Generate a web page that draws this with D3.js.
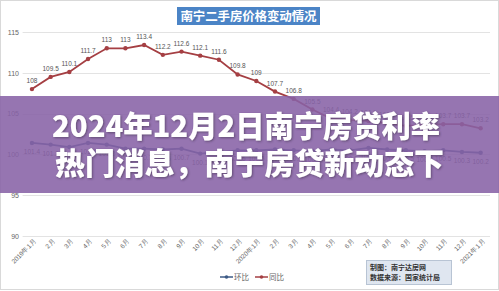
<!DOCTYPE html>
<html>
<head>
<meta charset="utf-8">
<script src="https://cdn.jsdelivr.net/npm/d3@7"></script>
<style>
  html, body { margin: 0; padding: 0; background: #fff; }
  svg { display: block; font-family: "Noto Sans CJK SC", "Noto Sans", sans-serif; }
</style>
</head>
<body>
<script>
// categories: 2019年1月 .. 2021年1月
const months = [
  "2019年1月", "2月", "3月", "4月", "5月", "6月", "7月", "8月", "9月", "10月", "11月", "12月",
  "2020年1月", "2月", "3月", "4月", "5月", "6月", "7月", "8月", "9月", "10月", "11月", "12月",
  "2021年1月"
];
const yoy = [108, 109.5, 110.1, 111.7, 113, 113, 113.4, 112.2, 112.6, 112.1, 111.6, 109.8,
  109, 107.7, 106.8, 105.5, 104.4, 104.2, 104.1, 103.8, 103.5, 103.6, 103.7, 103.7, 103.2];
const mom = [101.4, 101.2, 100.9, 101.4, 101.2, 100.7, 100.7, 100.6, 100.7, 100.1, 100.3, 100.5,
  100.5, 100.6, 100.5, 100.4, 100.6, 100.5, 100.8, 100.6, 100.5, 100.4, 100.5, 100.3, 100.2];
const yTicks = [90, 95, 100, 105, 110, 115];
const chartTitle = "南宁二手房价格变动情况";
const headline = ["2024年12月2日南宁房贷利率", "热门消息，南宁房贷新动态下"];
const legendNames = ["环比", "同比"];
const noteLines = ["制图：南宁达房网", "数据来源：国家统计局"];

const W = 499, H = 291;
const svg = d3.select("body").append("svg").attr("width", W).attr("height", H);

// frame
svg.append("rect").attr("x", 0.5).attr("y", 0.5).attr("width", W - 1).attr("height", H - 2)
  .attr("fill", "#fff").attr("stroke", "#d9d9d9");

const x = d3.scalePoint().domain(months.map((d, i) => i)).range([22.6, 490]).padding(0.5);
const y = d3.scaleLinear().domain([90, 115]).range([236, 32]);

// grid
svg.append("g").selectAll("line").data(yTicks).join("line")
  .attr("x1", 22.6).attr("x2", 490)
  .attr("y1", d => Math.round(y(d)) + 0.5).attr("y2", d => Math.round(y(d)) + 0.5)
  .attr("stroke", "#e3e3e3");

// y axis labels
const yAxis = svg.append("g").attr("transform", "translate(19,0)")
  .call(d3.axisLeft(y).tickValues(yTicks).tickSize(0).tickPadding(0));
yAxis.select(".domain").remove();
yAxis.selectAll("text").attr("fill", "#666").style("font-size", "7px")
  .style("font-family", "'Liberation Sans', sans-serif");

// x axis labels (rotated)
const xAxis = svg.append("g").attr("transform", "translate(0,240)")
  .call(d3.axisBottom(x).tickSize(0).tickPadding(0).tickFormat(i => months[i]));
xAxis.select(".domain").remove();
xAxis.selectAll("text")
  .attr("fill", "#666").style("font-size", "6.5px")
  .attr("text-anchor", "end").attr("dy", "0.3em")
  .attr("transform", "translate(3,0) rotate(-45)");

// title box
const tb = svg.append("g");
tb.append("rect").attr("x", 177).attr("y", 7).attr("width", 143).attr("height", 18).attr("fill", "#4b84c6");
tb.append("text").attr("x", 248.5).attr("y", 20.5).attr("text-anchor", "middle")
  .attr("fill", "#fff").style("font-size", "12.5px").style("font-weight", "bold")
  .attr("textLength", 136).text(chartTitle);

// series
function drawSeries(data, color, labelDy) {
  const line = d3.line().x((d, i) => x(i)).y(d => y(d));
  const g = svg.append("g");
  g.append("path").datum(data).attr("d", line).attr("fill", "none")
    .attr("stroke", color).attr("stroke-width", 1.8);
  g.selectAll("circle").data(data).join("circle")
    .attr("cx", (d, i) => x(i)).attr("cy", d => y(d)).attr("r", 2.2).attr("fill", color);
  g.selectAll("text").data(data).join("text")
    .attr("x", (d, i) => x(i)).attr("y", d => y(d) + labelDy)
    .attr("text-anchor", "middle").attr("fill", "#555")
    .style("font-size", "6.5px").style("font-family", "'Liberation Sans', sans-serif")
    .text(d => d);
}
drawSeries(yoy, "#a53f43", -6);
drawSeries(mom, "#3d5a86", 11);

// legend
const lg = svg.append("g");
[[220, "#3d5a86"], [255, "#a53f43"]].forEach((p, k) => {
  lg.append("line").attr("x1", p[0]).attr("x2", p[0] + 13).attr("y1", 277).attr("y2", 277)
    .attr("stroke", p[1]).attr("stroke-width", 1.5);
  lg.append("circle").attr("cx", p[0] + 6.5).attr("cy", 277).attr("r", 1.8).attr("fill", p[1]);
  lg.append("text").attr("x", p[0] + 14).attr("y", 280).attr("fill", "#666")
    .style("font-size", "7.5px").text(legendNames[k]);
});

// source note
const nb = svg.append("g");
nb.append("rect").attr("x", 366.5).attr("y", 260.5).attr("width", 85).attr("height", 24)
  .attr("fill", "#dfe6f0").attr("stroke", "#b8c4d4");
noteLines.forEach((t, k) => {
  nb.append("text").attr("x", 370).attr("y", 270 + k * 10).attr("fill", "#333")
    .style("font-size", "7px").style("font-weight", "bold").text(t);
});

// purple banner overlay
svg.append("rect").attr("x", 0).attr("y", 96).attr("width", W).attr("height", 97)
  .attr("fill", "#8862a6").attr("opacity", 0.88);

const defs = svg.append("defs");
defs.append("filter").attr("id", "shadow").attr("x", "-5%").attr("y", "-20%")
  .attr("width", "110%").attr("height", "140%")
  .append("feDropShadow").attr("dx", 1).attr("dy", 1).attr("stdDeviation", 0.8)
  .attr("flood-color", "#3a2a4a").attr("flood-opacity", 0.6);

const hl = svg.append("g").attr("filter", "url(#shadow)");
hl.append("text").attr("x", 52).attr("y", 137).attr("fill", "#fff")
  .style("font-size", "30px").style("font-weight", "900")
  .attr("textLength", 388).attr("lengthAdjust", "spacingAndGlyphs").text(headline[0]);
hl.append("text").attr("x", 55).attr("y", 174).attr("fill", "#fff")
  .style("font-size", "30px").style("font-weight", "900")
  .attr("textLength", 389).attr("lengthAdjust", "spacingAndGlyphs").text(headline[1]);
</script>
</body>
</html>
